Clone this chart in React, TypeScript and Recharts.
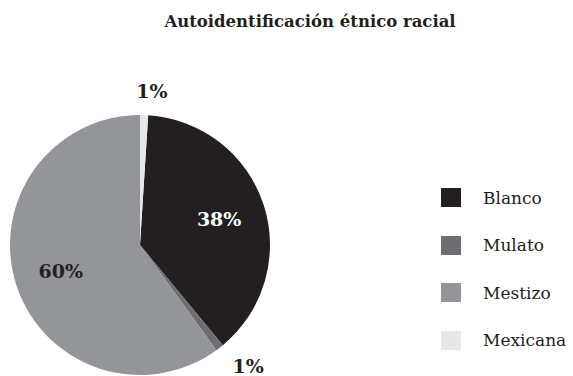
import { Cell, Legend, Pie, PieChart } from 'recharts';

const categories = ['Blanco', 'Mulato', 'Mestizo', 'Mexicana'];
const shares = [38, 1, 60, 1];
const colors = ['#231f20', '#6d6e71', '#939598', '#e6e7e8'];

const data = categories.map((name, i) => ({ name, value: shares[i] }));

const FONT = '"DejaVu Serif", serif';
const RAD = Math.PI / 180;
// the last (Mexicana) slice ends at 12 o'clock, so the pie starts a bit after it
const START = 90 - 3.6;

// small nudges so the outside labels sit where the original puts them
const labelNudge = [
  [0, 0],
  [10, -5],
  [0, 0],
  [7, 0],
];

const renderLabel = ({ cx, cy, midAngle, outerRadius, index, value }: any) => {
  const small = value < 5;
  const r = small ? outerRadius + (index === 3 ? 24 : 30) : outerRadius * 0.64;
  const x = cx + r * Math.cos(-midAngle * RAD) + labelNudge[index][0];
  const y = cy + r * Math.sin(-midAngle * RAD) + labelNudge[index][1];
  return (
    <text
      x={x}
      y={y}
      textAnchor="middle"
      dominantBaseline="central"
      fontFamily={FONT}
      fontWeight="bold"
      fontSize={19}
      fill={index === 0 ? '#ffffff' : '#231f20'}
    >
      {`${value}%`}
    </text>
  );
};

const LegendContent = () => (
  <div style={{ fontFamily: FONT, fontSize: 17, color: '#231f20' }}>
    {categories.map((c, i) => (
      <div key={c} style={{ display: 'flex', alignItems: 'center', height: 47.5 }}>
        <span style={{ width: 20, height: 19, background: colors[i], display: 'inline-block' }} />
        <span style={{ marginLeft: 22 }}>{c}</span>
      </div>
    ))}
  </div>
);

export default function App() {
  return (
    <div style={{ position: 'absolute', left: 0, top: 0, width: 573, height: 376, background: '#fff' }}>
      <div
        style={{
          position: 'absolute',
          top: 12,
          left: 0,
          width: 620,
          textAlign: 'center',
          fontFamily: FONT,
          fontWeight: 'bold',
          fontSize: 16.5,
          color: '#231f20',
        }}
      >
        Autoidentificación étnico racial
      </div>
      <PieChart width={573} height={376} margin={{ top: 0, right: 0, bottom: 0, left: 0 }}>
        <Pie
          data={data}
          dataKey="value"
          nameKey="name"
          cx={140}
          cy={245}
          outerRadius={130}
          startAngle={START}
          endAngle={START - 360}
          stroke="none"
          label={renderLabel}
          labelLine={false}
          isAnimationActive={false}
        >
          {data.map((d, i) => (
            <Cell key={d.name} fill={colors[i]} />
          ))}
        </Pie>
        <Legend
          content={<LegendContent />}
          wrapperStyle={{ position: 'absolute', left: 441, top: 174, width: 140 }}
        />
      </PieChart>
    </div>
  );
}
